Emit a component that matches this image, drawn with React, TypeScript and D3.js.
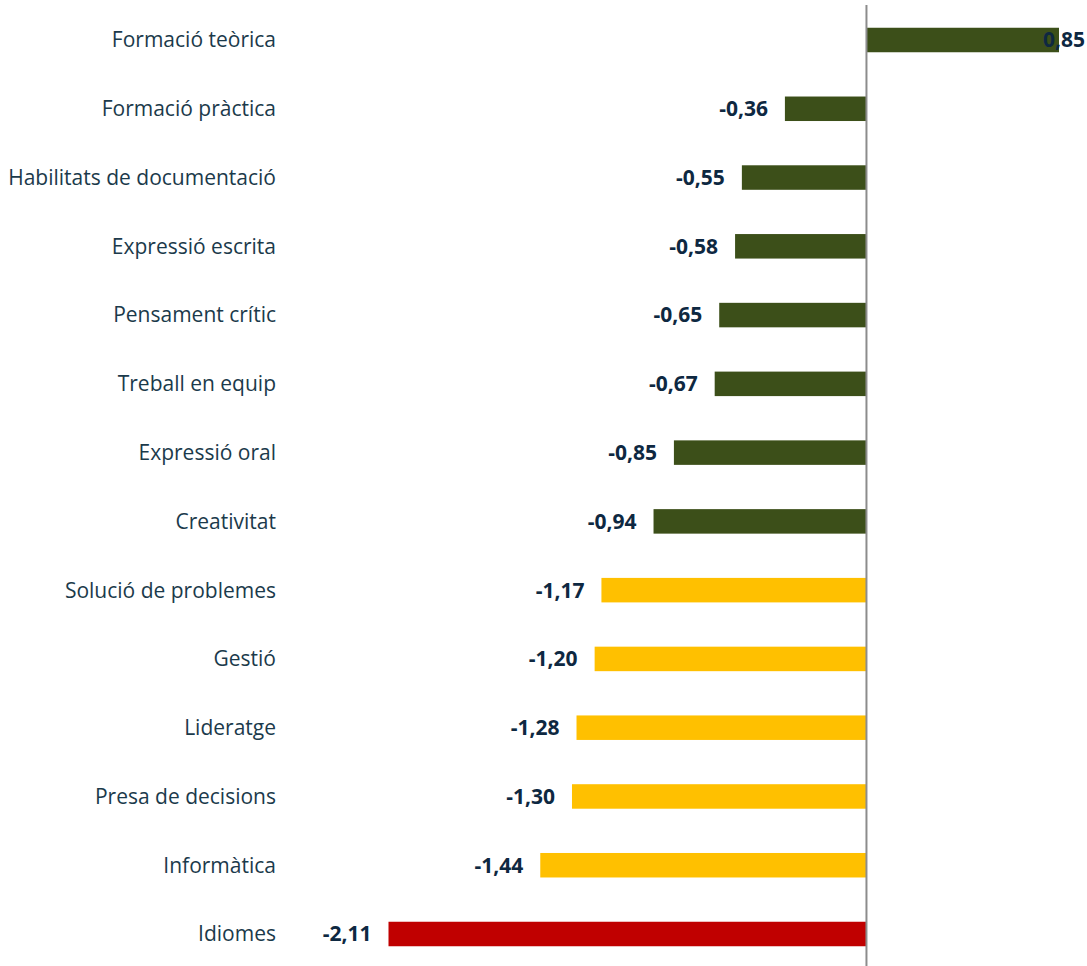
import React from "react";
import * as d3 from "d3";

const categories = [
  "Formació teòrica",
  "Formació pràctica",
  "Habilitats de documentació",
  "Expressió escrita",
  "Pensament crític",
  "Treball en equip",
  "Expressió oral",
  "Creativitat",
  "Solució de problemes",
  "Gestió",
  "Lideratge",
  "Presa de decisions",
  "Informàtica",
  "Idiomes",
];
const values = [0.85, -0.36, -0.55, -0.58, -0.65, -0.67, -0.85, -0.94, -1.17, -1.2, -1.28, -1.3, -1.44, -2.11];
const groups = ["g", "g", "g", "g", "g", "g", "g", "g", "y", "y", "y", "y", "y", "r"];

const colors: Record<string, string> = { g: "#3C4F19", y: "#FFC000", r: "#C00000" };

const W = 1087;
const H = 966;

export default function App() {
  const x = d3.scaleLinear().domain([-2.11, 0.85]).range([388.5, 1059]);
  const y = d3.scalePoint<string>().domain(categories).range([40, 934]);
  const barH = 24.5;
  const fmt = (v: number) => d3.format(".2f")(v).replace(".", ",").replace("\u2212", "-");
  return (
    <svg
      width={W}
      height={H}
      style={{ position: "absolute", left: 0, top: 0, background: "#fff" }}
      fontFamily="'Open Sans', sans-serif"
    >
      {categories.map((c, i) => {
        const v = values[i];
        const cy = y(c)!;
        const x0 = x(Math.min(0, v));
        const x1 = x(Math.max(0, v));
        return (
          <g key={c}>
            <rect x={x0} y={cy - barH / 2} width={x1 - x0} height={barH} fill={colors[groups[i]]} />
            <text x={276} y={cy} dy="0.35em" textAnchor="end" fontSize={21} fill="#1B3A4B">
              {c}
            </text>
            <text
              x={v < 0 ? x(v) - 17 : x(v) - 16}
              y={cy}
              dy="0.35em"
              textAnchor={v < 0 ? "end" : "start"}
              fontSize={21}
              fontWeight="bold"
              fill="#0E2841"
            >
              {fmt(v)}
            </text>
          </g>
        );
      })}
      <line x1={x(0)} x2={x(0)} y1={5} y2={H} stroke="#8C8C8C" strokeWidth={2} />
    </svg>
  );
}
